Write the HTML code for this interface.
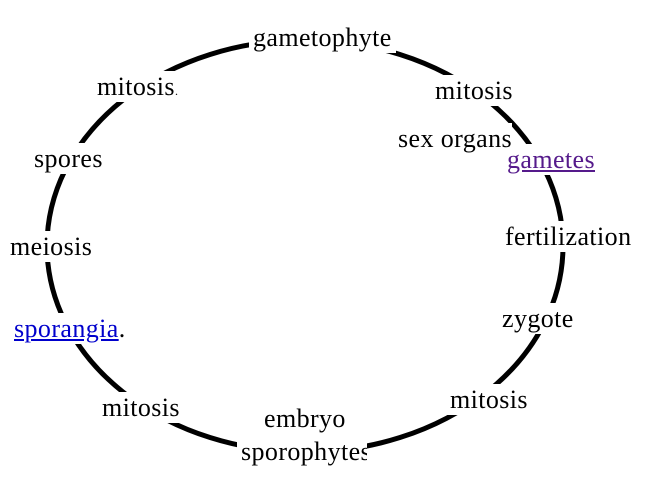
<!DOCTYPE html>
<html><head><style>
html,body{margin:0;padding:0;background:#fff;}
body{width:663px;height:498px;position:relative;overflow:hidden;font-family:"Liberation Serif",serif;}
.l{position:absolute;font-size:26px;letter-spacing:0.4px;line-height:25px;height:25px;background:#fff;padding:3px 4px;margin:-3px -4px;white-space:nowrap;color:#000;}
svg{position:absolute;left:0;top:0;}
</style></head><body>
<svg width="663" height="498"><ellipse cx="305" cy="246" rx="258" ry="206" fill="none" stroke="#000" stroke-width="5"/></svg>
<div class="l" style="left:253px;top:25px">gametophyte</div>
<div class="l" style="left:97px;top:74px">mitosis<span style="font-size:12px">.</span></div>
<div class="l" style="left:435px;top:78px">mitosis</div>
<div class="l" style="left:507px;top:147px;color:#551a8b;text-decoration:underline">gametes</div>
<div class="l" style="left:398px;top:126px;padding-right:0">sex organs</div>
<div class="l" style="left:34px;top:146px">spores</div>
<div class="l" style="left:10px;top:234px">meiosis</div>
<div class="l" style="left:505px;top:224px">fertilization</div>
<div class="l" style="left:14px;top:316px"><span style="color:#0000cc;text-decoration:underline">sporangia</span>.</div>
<div class="l" style="left:502px;top:306px">zygote</div>
<div class="l" style="left:102px;top:395px">mitosis</div>
<div class="l" style="left:450px;top:387px">mitosis</div>
<div class="l" style="left:264px;top:406px">embryo</div>
<div class="l" style="left:241px;top:439px;width:122px;overflow:hidden">sporophytes</div>
</body></html>
